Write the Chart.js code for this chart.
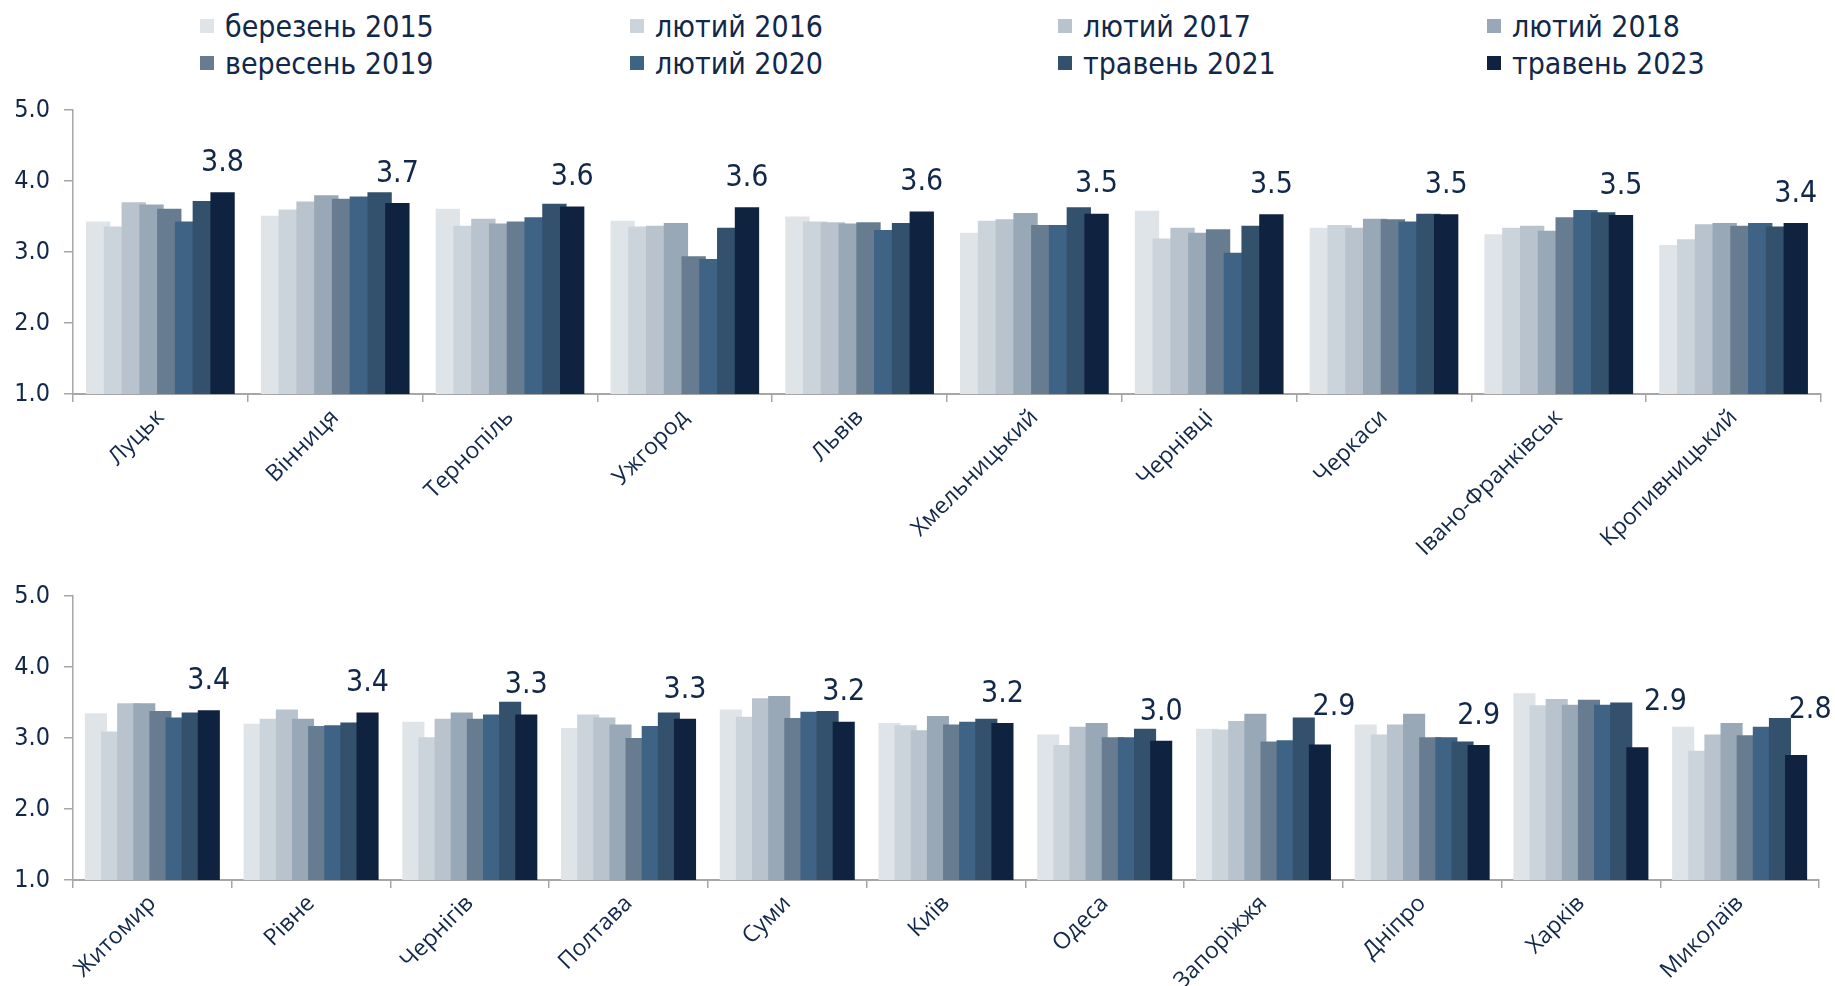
<!DOCTYPE html>
<html lang="uk">
<head>
<meta charset="utf-8">
<script src="https://cdn.jsdelivr.net/npm/chart.js@4.4.0/dist/chart.umd.min.js"></script>
<style>
  html, body { margin: 0; padding: 0; background: #fff; overflow: hidden; width: 1835px; height: 986px; position: relative; }
  .legend__item { position: absolute; display: flex; align-items: center; height: 36px; font: 30px 'DejaVu Sans Condensed', 'Liberation Sans Narrow', sans-serif; color: #12284a; white-space: nowrap; }
  .legend__box { width: 14px; height: 14px; margin-right: 11px; }
  canvas { position: absolute; left: 0; }
</style>
</head>
<body>
<div id="legend"></div>
<canvas id="chart-top" width="1835" height="489" style="top:81px;width:1835px;height:489px"></canvas>
<canvas id="chart-bottom" width="1835" height="419" style="top:567px;width:1835px;height:419px"></canvas>
<script>
const SERIES_LABELS = ['березень 2015', 'лютий 2016', 'лютий 2017', 'лютий 2018',
  'вересень 2019', 'лютий 2020', 'травень 2021', 'травень 2023'];
const SERIES_COLORS = ['#dfe4e9', '#cbd3db', '#b9c3cd', '#98a8b6', '#677c91', '#3f6385', '#33506d', '#0f2340'];

const TOP_CITIES = ['Луцьк', 'Вінниця', 'Тернопіль', 'Ужгород', 'Львів', 'Хмельницький',
  'Чернівці', 'Черкаси', 'Івано-Франківськ', 'Кропивницький'];
const BOTTOM_CITIES = ['Житомир', 'Рівне', 'Чернігів', 'Полтава', 'Суми', 'Київ', 'Одеса',
  'Запоріжжя', 'Дніпро', 'Харків', 'Миколаїв'];

const Y_TICKS = [1, 2, 3, 4, 5];

// top panel, one array per survey
const mar2015Top = [3.43, 3.51, 3.61, 3.44, 3.50, 3.27, 3.58, 3.34, 3.25, 3.10];
const feb2016Top = [3.36, 3.60, 3.37, 3.36, 3.43, 3.44, 3.19, 3.38, 3.34, 3.18];
const feb2017Top = [3.70, 3.71, 3.47, 3.37, 3.42, 3.46, 3.34, 3.34, 3.37, 3.39];
const feb2018Top = [3.67, 3.80, 3.40, 3.41, 3.40, 3.55, 3.27, 3.47, 3.30, 3.41];
const sep2019Top = [3.61, 3.75, 3.43, 2.94, 3.42, 3.38, 3.32, 3.46, 3.49, 3.37];
const feb2020Top = [3.43, 3.78, 3.49, 2.90, 3.31, 3.38, 2.99, 3.43, 3.59, 3.41];
const may2021Top = [3.72, 3.84, 3.68, 3.34, 3.41, 3.63, 3.37, 3.54, 3.56, 3.36];
const may2023Top = [3.84, 3.69, 3.64, 3.63, 3.57, 3.54, 3.53, 3.53, 3.52, 3.41];

// bottom panel
const mar2015Bottom = [3.35, 3.20, 3.23, 3.14, 3.40, 3.21, 3.05, 3.13, 3.19, 3.63, 3.16];
const feb2016Bottom = [3.09, 3.27, 3.01, 3.33, 3.30, 3.18, 2.90, 3.12, 3.05, 3.46, 2.82];
const feb2017Bottom = [3.49, 3.40, 3.27, 3.29, 3.56, 3.11, 3.16, 3.24, 3.19, 3.55, 3.05];
const feb2018Bottom = [3.49, 3.27, 3.36, 3.19, 3.59, 3.31, 3.21, 3.34, 3.34, 3.47, 3.21];
const sep2019Bottom = [3.38, 3.17, 3.27, 3.00, 3.28, 3.19, 3.01, 2.95, 3.01, 3.54, 3.04];
const feb2020Bottom = [3.29, 3.18, 3.33, 3.17, 3.37, 3.23, 3.01, 2.97, 3.01, 3.47, 3.16];
const may2021Bottom = [3.36, 3.22, 3.51, 3.36, 3.38, 3.27, 3.13, 3.29, 2.95, 3.50, 3.28];
const may2023Bottom = [3.39, 3.36, 3.33, 3.27, 3.23, 3.21, 2.96, 2.91, 2.90, 2.87, 2.76];

const TEXT_COLOR = '#12284a';
const AXIS_COLOR = '#a6a6a6';
const CONDENSED = "'DejaVu Sans Condensed', 'Liberation Sans Narrow', sans-serif";

Chart.defaults.font.family = CONDENSED;

/**
 * Legend in a fixed 4-column grid shared by both panels.
 */
function buildLegend() {
  const legend = document.getElementById('legend');
  const columns = [200, 630, 1058, 1487];
  const rows = [26, 63];
  SERIES_LABELS.forEach((label, i) => {
    const item = document.createElement('div');
    item.className = 'legend__item';
    item.style.left = `${columns[i % 4]}px`;
    item.style.top = `${rows[Math.floor(i / 4)] - 18}px`;
    item.innerHTML = `<span class="legend__box" style="background:${SERIES_COLORS[i]}"></span>${label}`;
    legend.append(item);
  });
}

// Excel draws later series in front, so draw bars first-to-last, clipped to the plot area.
const frontToBack = {
  id: 'frontToBack',
  beforeDatasetsDraw(chart) {
    const { ctx, chartArea: area } = chart;
    ctx.save();
    ctx.beginPath();
    ctx.rect(area.left, area.top, area.right - area.left, area.bottom - area.top);
    ctx.clip();
    chart.getSortedVisibleDatasetMetas().forEach((meta) => meta.controller.draw());
    ctx.restore();
    return false;
  },
};

// Value of the latest survey above its bar; moved clear of the previous bar when that one is much taller.
const latestLabels = {
  id: 'latestLabels',
  afterDraw(chart) {
    const { ctx } = chart;
    const n = chart.data.datasets.length;
    const last = chart.getDatasetMeta(n - 1).data;
    const prev = chart.getDatasetMeta(n - 2).data;
    const lastData = chart.data.datasets[n - 1].data;
    const prevData = chart.data.datasets[n - 2].data;
    ctx.save();
    ctx.font = `30px ${CONDENSED}`;
    ctx.fillStyle = TEXT_COLOR;
    ctx.textAlign = 'center';
    ctx.textBaseline = 'middle';
    last.forEach((bar, i) => {
      let x = bar.x;
      let y = bar.y - 29;
      if (prevData[i] - lastData[i] > 0.3) {
        y = Math.max(prev[i].y - 10, bar.y - 45);
        x = y >= prev[i].y - 5 ? bar.x + 28 : bar.x + 14;
      }
      ctx.fillText(lastData[i].toFixed(1), x, y);
    });
    ctx.restore();
  },
};

/**
 * Chart config for one panel.
 */
function getChartConfig(cities, series, xAxisHeight, rightPad) {
  return {
    type: 'bar',
    data: {
      labels: cities,
      datasets: series.map((values, i) => ({
        label: SERIES_LABELS[i],
        data: values,
        backgroundColor: SERIES_COLORS[i],
        borderWidth: 0,
        categoryPercentage: 0.813,
        barPercentage: 1.37,
      })),
    },
    options: {
      responsive: false,
      devicePixelRatio: 1,
      animation: false,
      layout: { padding: { top: 20, right: rightPad, left: 0, bottom: 0 } },
      plugins: { legend: { display: false }, tooltip: { enabled: false } },
      scales: {
        x: {
          grid: { drawOnChartArea: false, offset: true, color: AXIS_COLOR, tickLength: 8, lineWidth: 1.5 },
          border: { color: AXIS_COLOR, width: 2 },
          ticks: {
            color: TEXT_COLOR,
            font: { family: "'Open Sans', sans-serif", size: 23 },
            minRotation: 45,
            maxRotation: 45,
            autoSkip: false,
            padding: 2,
          },
          afterFit(scale) { scale.height = xAxisHeight; },
        },
        y: {
          min: Y_TICKS[0],
          max: Y_TICKS[Y_TICKS.length - 1],
          afterBuildTicks(scale) { scale.ticks = Y_TICKS.map((value) => ({ value })); },
          ticks: { color: TEXT_COLOR, font: { size: 25 }, padding: 14, callback: (v) => v.toFixed(1) },
          grid: { drawOnChartArea: false, color: AXIS_COLOR, tickLength: 9, lineWidth: 1.5 },
          border: { color: AXIS_COLOR, width: 1.5 },
          afterFit(scale) { scale.width = 73; },
        },
      },
    },
    plugins: [frontToBack, latestLabels],
  };
}

buildLegend();

new Chart(document.getElementById('chart-top'), getChartConfig(TOP_CITIES,
  [mar2015Top, feb2016Top, feb2017Top, feb2018Top, sep2019Top, feb2020Top, may2021Top, may2023Top], 176, 14));

new Chart(document.getElementById('chart-bottom'), getChartConfig(BOTTOM_CITIES,
  [mar2015Bottom, feb2016Bottom, feb2017Bottom, feb2018Bottom, sep2019Bottom, feb2020Bottom, may2021Bottom, may2023Bottom], 106, 16));
</script>
</body>
</html>
